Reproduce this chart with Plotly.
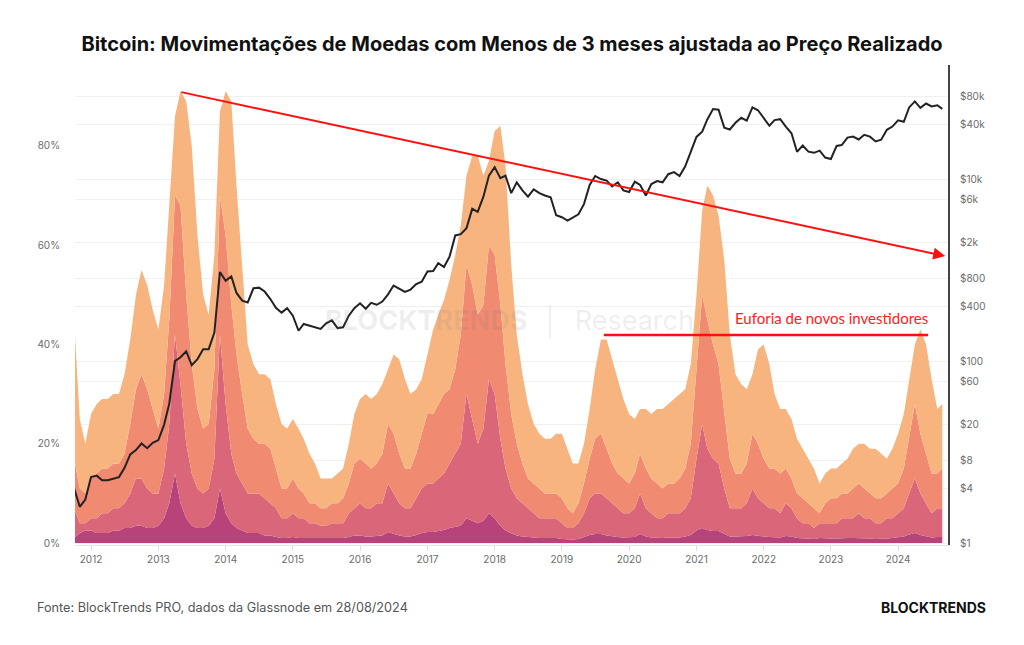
import pandas as pd
import plotly.graph_objects as go

# Monthly dates (1st of month) Oct 2011 - Aug 2024, plus last data day
dates = list(pd.date_range("2011-10-01", "2024-08-01", freq="MS")) + [pd.Timestamp("2024-08-28")]

# Cumulative share of supply moved (adjusted to realized price), % -- coins younger than ...
share_lt_3m = [
    45, 25, 20,
    26, 28, 29, 29, 30, 30, 34, 41, 50, 55, 52, 47,
    43, 52, 68, 86, 91, 89, 80, 62, 50, 46, 58, 87,
    91, 89, 72, 55, 40, 36, 34, 34, 33, 28, 24, 23,
    25, 23, 21, 18, 16, 13, 13, 13, 14, 15, 20, 26,
    29, 30, 29, 30, 32, 35, 38, 37, 33, 30, 31, 33,
    38, 43, 46, 49, 53, 58, 64, 74, 78, 78, 74, 77,
    83, 84, 76, 56, 42, 34, 28, 24, 22, 21, 21, 22,
    22, 19, 16, 16, 20, 27, 35, 41, 41, 37, 33, 29,
    26, 25, 27, 27, 26, 27, 27, 28, 29, 30, 31, 36,
    50, 67, 72, 70, 66, 57, 42, 34, 32, 31, 34, 39,
    40, 36, 30, 27, 27, 25, 21, 19, 17, 15, 12, 14,
    15, 15, 16, 17, 19, 20, 20, 19, 19, 18, 17, 19,
    22, 26, 33, 40, 43, 40, 33, 27, 28,
]
share_lt_1m = [
    17, 11, 10,
    13, 14, 15, 15, 16, 16, 18, 24, 31, 34, 31, 27,
    23, 30, 45, 70, 68, 50, 36, 27, 23, 24, 35, 70,
    62, 48, 38, 30, 23, 21, 20, 20, 19, 15, 11, 11,
    13, 11, 10, 8, 8, 7, 7, 8, 8, 9, 12, 16,
    17, 16, 15, 16, 18, 24, 22, 18, 15, 15, 18, 22,
    26, 26, 28, 30, 31, 35, 42, 56, 52, 46, 48, 60,
    58, 48, 36, 26, 20, 16, 13, 12, 11, 10, 10, 10,
    9, 7, 6, 8, 12, 17, 21, 22, 19, 16, 14, 13,
    12, 14, 18, 15, 13, 12, 11, 12, 12, 13, 15, 20,
    36, 50, 45, 40, 36, 26, 17, 14, 14, 16, 22, 20,
    17, 15, 15, 14, 15, 13, 10, 9, 8, 7, 6, 8,
    9, 9, 10, 10, 11, 12, 11, 10, 9, 9, 10, 11,
    12, 15, 21, 28, 22, 18, 14, 14, 15,
]
share_lt_1w = [
    7, 4, 4,
    5, 5, 6, 6, 7, 7, 8, 10, 13, 13, 11, 10,
    10, 15, 24, 42, 32, 20, 14, 11, 10, 11, 17, 42,
    28, 18, 14, 12, 10, 10, 10, 9, 8, 7, 5, 5,
    6, 5, 5, 4, 4, 3.5, 3.5, 4, 4, 4, 6, 7,
    8, 7, 7, 8, 8, 12, 10, 8, 7, 7, 9, 11,
    12, 12, 13, 14, 16, 18, 20, 30, 25, 20, 23, 33,
    30, 21, 15, 11, 9, 8, 7, 6, 5, 5, 5, 5,
    4, 3, 3, 4, 6, 9, 10, 10, 9, 8, 7, 6,
    6, 7, 10, 7, 6, 5, 5, 6, 6, 6, 7, 9,
    17, 24, 19, 17, 16, 11, 7, 7, 7, 8, 11, 9,
    8, 7, 7, 6, 8, 7, 5, 4, 4, 3, 4, 4,
    4, 4, 5, 5, 5, 6, 5, 5, 4, 4, 5, 5,
    6, 7, 10, 13, 10, 8, 6, 7, 7,
]
share_lt_24h = [
    1, 2, 2.5,
    2.5, 2, 2, 2, 2.5, 2.5, 3, 3, 3.5, 3.5, 3, 3,
    3.5, 5, 8, 14, 8, 5, 3.5, 3, 3, 3.5, 5, 11,
    6, 4, 3, 2.5, 2, 2, 2, 1.5, 1.5, 1.2, 1, 1,
    1.2, 1, 1, 1, 1, 1, 1, 1, 1, 1, 1.2, 1.5,
    1.5, 1.3, 1.3, 1.4, 1.5, 2.2, 1.8, 1.5, 1.3, 1.3, 1.6, 2,
    2.2, 2.2, 2.4, 2.6, 3, 3.3, 3.5, 5, 4.5, 4, 4.5, 6,
    5, 3.5, 2.5, 2, 1.5, 1.3, 1.2, 1, 1, 1, 1, 1,
    0.8, 0.7, 0.7, 0.8, 1.2, 1.6, 1.8, 1.8, 1.5, 1.3, 1.2, 1.1,
    1.1, 1.2, 1.8, 1.3, 1.1, 1, 1, 1.1, 1.1, 1.1, 1.3, 1.6,
    2.5, 3, 2.6, 2.4, 2.4, 1.8, 1.3, 1.3, 1.3, 1.4, 1.6, 1.4,
    1.3, 1.2, 1.2, 1.1, 1.4, 1.3, 1, 0.9, 0.9, 0.8, 1, 0.9,
    0.9, 0.9, 1, 1, 1, 1, 1, 0.9, 0.8, 0.8, 0.9, 1,
    1.1, 1.3, 1.7, 2, 1.6, 1.3, 1.1, 1.2, 1.2,
]
btc_price = [
    4.0, 2.5, 3.0,
    5.3, 5.5, 4.9, 4.9, 5.1, 5.3, 6.7, 9.4, 10.5, 12.4, 11.0, 12.6,
    13.5, 20, 34, 100, 110, 128, 90, 105, 135, 135, 205, 950,
    760, 850, 560, 460, 440, 630, 640, 580, 480, 385, 340, 380,
    315, 215, 255, 245, 235, 225, 260, 280, 230, 235, 315, 380,
    430, 375, 435, 415, 450, 540, 675, 625, 575, 610, 700, 745,
    965, 975, 1190, 1080, 1400, 2400, 2480, 2880, 4700, 4350, 6400, 10900,
    13500, 10200, 10900, 7000, 9200, 7500, 6400, 7700, 7000, 6600, 6300, 4000,
    3800, 3500, 3800, 4100, 5300, 8600, 10800, 10000, 9600, 8300, 9200, 7500,
    7200, 9350, 8600, 6600, 8800, 9500, 9200, 11300, 11900, 10800, 13800, 19700,
    29000, 33100, 45200, 58800, 57700, 36700, 35000, 41500, 47100, 43800, 61300, 57000,
    46300, 38500, 44400, 45500, 37700, 31800, 19900, 23300, 20000, 19400, 20500, 17200,
    16600, 23100, 23600, 28500, 29300, 27200, 30600, 29200, 25900, 27000, 34700, 37700,
    44200, 42600, 61200, 71300, 60600, 67500, 62700, 64600, 59000,
]

price_tickvals = [1, 4, 8, 20, 60, 100, 400, 800, 2000, 6000, 10000, 40000, 80000]
price_ticktext = ["$1", "$4", "$8", "$20", "$60", "$100", "$400", "$800",
                  "$2k", "$6k", "$10k", "$40k", "$80k"]
pct_tickvals = [0, 20, 40, 60, 80]
pct_ticktext = ["0%", "20%", "40%", "60%", "80%"]
year_ticks = [pd.Timestamp(f"{y}-01-01") for y in range(2012, 2025)]
year_labels = [str(y) for y in range(2012, 2025)]

bands = [
    ("< 24h", share_lt_24h, "#B8427A", "tozeroy"),
    ("24h - 1w", share_lt_1w, "#DA6679", "tonexty"),
    ("1w - 1m", share_lt_1m, "#F08A71", "tonexty"),
    ("1m - 3m", share_lt_3m, "#F8B47F", "tonexty"),
]

fig = go.Figure()
for name, vals, col, fill in bands:
    fig.add_trace(go.Scatter(
        x=dates, y=vals, name=name, mode="lines", line=dict(width=0, color=col),
        fill=fill, fillcolor=col, hoverinfo="skip", showlegend=False,
    ))

fig.add_trace(go.Scatter(
    x=dates, y=btc_price, yaxis="y2", mode="lines", name="Preço BTC",
    line=dict(color="#222222", width=2), showlegend=False,
))

TICKFONT = dict(family="Inter, Roboto, sans-serif", size=10, color="#6b6b6b")

fig.update_layout(
    width=1024, height=645,
    margin=dict(l=75, r=76, t=65, b=100),
    paper_bgcolor="white", plot_bgcolor="white",
    title=dict(
        text="<b>Bitcoin: Movimentações de Moedas com Menos de 3 meses ajustada ao Preço Realizado</b>",
        x=0.5, xanchor="center", y=1 - 44 / 645, yanchor="middle",
        font=dict(family="Inter, Roboto, sans-serif", size=20, color="#111111"),
    ),
    xaxis=dict(
        type="date", range=["2011-10-06", "2024-09-28"],
        tickvals=year_ticks, ticktext=year_labels,
        showgrid=False, zeroline=False,
        showline=True, linecolor="#e6e6e6", linewidth=1,
        ticks="outside", ticklen=5, tickcolor="#e0e0e0",
        tickfont=TICKFONT,
    ),
    yaxis=dict(
        range=[-0.4, 96.3], tickvals=pct_tickvals, ticktext=pct_ticktext,
        showgrid=False, zeroline=False, showline=False,
        ticklabelstandoff=14, tickfont=TICKFONT,
    ),
    yaxis2=dict(
        type="log", overlaying="y", side="right", range=[-0.022, 5.253],
        tickvals=price_tickvals, ticktext=price_ticktext,
        showgrid=True, gridcolor="#f0f0f0", gridwidth=1, zeroline=False,
        showline=True, linecolor="#444444", linewidth=2,
        ticklabelstandoff=8, tickfont=TICKFONT,
    ),
    showlegend=False,
)

# Watermark
fig.add_annotation(
    xref="paper", yref="paper", x=0.498, y=0.465,
    text="<b>BLOCKTRENDS</b>  │  Research", showarrow=False,
    font=dict(family="Inter, Roboto, sans-serif", size=27, color="rgba(120,120,120,0.12)"),
)

# Descending trend arrow
fig.add_annotation(
    x=pd.Timestamp("2024-09-13"), y=57.8, xref="x", yref="y",
    ax=pd.Timestamp("2013-04-27"), ay=90.9, axref="x", ayref="y",
    showarrow=True, arrowhead=2, arrowsize=1.2, arrowwidth=2, arrowcolor="#ff1010",
    text="",
)

# Euphoria level line
fig.add_shape(
    type="line", xref="x", yref="y",
    x0=pd.Timestamp("2019-08-17"), x1=pd.Timestamp("2024-06-12"), y0=41.9, y1=41.9,
    line=dict(color="#ff1010", width=2.5),
)
fig.add_annotation(
    x=pd.Timestamp("2023-01-02"), y=45.4, xref="x", yref="y",
    text="Euforia de novos investidores", showarrow=False,
    font=dict(family="Lato, 'Open Sans', sans-serif", size=15, color="#ff2020"),
)

# Footer
fig.add_annotation(
    xref="paper", yref="paper", x=(35 - 75) / 873, y=(545 - 607) / 480,
    xanchor="left", yanchor="middle", showarrow=False,
    text="Fonte: BlockTrends PRO, dados da Glassnode em 28/08/2024",
    font=dict(family="Inter, Roboto, sans-serif", size=12.7, color="#555555"),
)
fig.add_annotation(
    xref="paper", yref="paper", x=(988 - 75) / 873, y=(545 - 607) / 480,
    xanchor="right", yanchor="middle", showarrow=False,
    text="<b>BLOCKTRENDS</b>",
    font=dict(family="Inter, Roboto, sans-serif", size=14, color="#111111"),
)

fig.write_html("out.html")
